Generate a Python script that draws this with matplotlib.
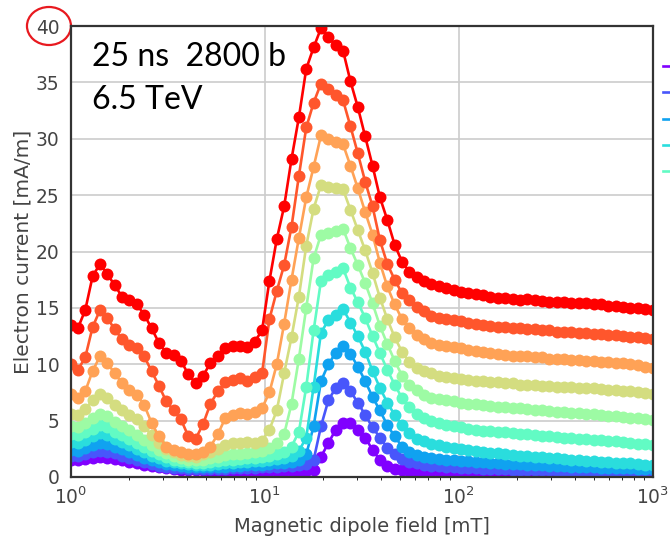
import numpy as np
import matplotlib
matplotlib.use("Agg")
import matplotlib.pyplot as plt
from matplotlib.patches import Ellipse

# dipole field scan (mT), log spaced
field_mT = np.logspace(0, 3, 80)

# electron current [mA/m], lowest to highest curve
s0 = [1.5, 1.5, 1.6, 1.7, 1.75, 1.7, 1.6, 1.5, 1.35, 1.2,
      1.05, 0.95, 0.85, 0.77, 0.7, 0.65, 0.62, 0.6, 0.58, 0.57,
      0.56, 0.56, 0.56, 0.56, 0.56, 0.56, 0.56, 0.56, 0.56, 0.56,
      0.56, 0.56, 0.55, 0.6, 1.8, 3.0, 4.2, 4.8, 4.75, 4.2,
      3.5, 2.4, 1.5, 1.0, 0.75, 0.62, 0.55, 0.53, 0.52, 0.5,
      0.5, 0.49, 0.48, 0.47, 0.46, 0.46, 0.45, 0.45, 0.44, 0.44,
      0.43, 0.43, 0.42, 0.42, 0.41, 0.41, 0.4, 0.4, 0.4, 0.39,
      0.39, 0.38, 0.38, 0.38, 0.37, 0.37, 0.37, 0.36, 0.36, 0.36]
s1 = [1.9, 1.85, 2.0, 2.2, 2.3, 2.25, 2.1, 1.9, 1.7, 1.5,
      1.3, 1.15, 1.0, 0.9, 0.82, 0.77, 0.73, 0.7, 0.7, 0.7,
      0.72, 0.74, 0.76, 0.78, 0.8, 0.82, 0.85, 0.88, 0.92, 0.96,
      1.0, 1.05, 1.12, 1.5, 4.5, 6.8, 7.9, 8.3, 7.6, 6.6,
      5.5, 4.4, 3.5, 2.6, 2.0, 1.6, 1.35, 1.2, 1.1, 1.0,
      0.95, 0.9, 0.86, 0.83, 0.8, 0.77, 0.74, 0.72, 0.7, 0.68,
      0.66, 0.64, 0.62, 0.61, 0.6, 0.58, 0.57, 0.56, 0.55, 0.54,
      0.53, 0.52, 0.51, 0.5, 0.49, 0.48, 0.47, 0.46, 0.45, 0.44]
s2 = [2.4, 2.35, 2.6, 2.85, 3.0, 2.9, 2.7, 2.45, 2.2, 1.95,
      1.7, 1.5, 1.3, 1.15, 1.05, 0.98, 0.93, 0.9, 0.88, 0.88,
      0.9, 0.93, 0.97, 1.0, 1.03, 1.06, 1.1, 1.15, 1.2, 1.27,
      1.35, 1.5, 2.0, 4.5, 8.5, 10.0, 11.0, 11.6, 10.9, 9.8,
      8.5, 7.1, 5.9, 4.6, 3.6, 2.7, 2.2, 1.95, 1.8, 1.7,
      1.6, 1.55, 1.5, 1.45, 1.4, 1.35, 1.3, 1.25, 1.2, 1.17,
      1.14, 1.11, 1.08, 1.05, 1.02, 1.0, 0.97, 0.95, 0.93, 0.9,
      0.88, 0.86, 0.84, 0.82, 0.8, 0.78, 0.76, 0.74, 0.72, 0.7]
s3 = [3.1, 3.0, 3.3, 3.6, 3.9, 3.7, 3.4, 3.1, 2.8, 2.5,
      2.2, 1.9, 1.65, 1.45, 1.3, 1.2, 1.12, 1.08, 1.05, 1.08,
      1.12, 1.2, 1.25, 1.3, 1.35, 1.38, 1.45, 1.5, 1.6, 1.7,
      1.85, 2.3, 3.5, 8.0, 12.8, 13.9, 14.4, 14.9, 13.7, 12.5,
      11.1, 9.4, 7.9, 6.6, 5.5, 4.6, 3.9, 3.4, 3.15, 2.95,
      2.8, 2.7, 2.6, 2.5, 2.4, 2.3, 2.2, 2.15, 2.1, 2.0,
      1.95, 1.9, 1.85, 1.8, 1.75, 1.7, 1.65, 1.6, 1.55, 1.5,
      1.45, 1.4, 1.35, 1.3, 1.27, 1.23, 1.2, 1.15, 1.1, 1.06]
s4 = [3.8, 3.7, 4.0, 4.3, 4.6, 4.4, 4.0, 3.7, 3.4, 3.0,
      2.7, 2.3, 2.0, 1.75, 1.55, 1.4, 1.3, 1.25, 1.25, 1.3,
      1.4, 1.5, 1.55, 1.6, 1.65, 1.7, 1.8, 1.9, 2.0, 2.2,
      2.7, 4.0, 8.0, 13.0, 17.4, 17.9, 18.2, 18.5, 16.8, 15.5,
      14.1, 12.5, 11.0, 9.5, 8.2, 7.0, 6.2, 5.6, 5.25, 5.0,
      4.8, 4.65, 4.5, 4.4, 4.3, 4.2, 4.1, 4.05, 4.0, 3.95,
      3.9, 3.85, 3.8, 3.7, 3.65, 3.6, 3.55, 3.5, 3.45, 3.4,
      3.35, 3.3, 3.25, 3.2, 3.15, 3.1, 3.0, 2.95, 2.9, 2.85]
s5 = [4.5, 4.4, 4.75, 5.2, 5.6, 5.4, 4.9, 4.5, 4.2, 3.7,
      3.3, 2.8, 2.4, 2.1, 1.9, 1.65, 1.55, 1.5, 1.55, 1.65,
      1.8, 1.95, 2.0, 2.05, 2.1, 2.2, 2.35, 2.6, 3.0, 3.8,
      6.5, 10.5, 15.0, 19.4, 21.5, 21.6, 21.8, 22.0, 20.3, 18.8,
      17.2, 15.4, 13.4, 11.8, 10.3, 9.0, 8.2, 7.7, 7.3, 7.05,
      6.9, 6.8, 6.7, 6.6, 6.5, 6.45, 6.4, 6.3, 6.25, 6.2,
      6.15, 6.1, 6.0, 5.95, 5.9, 5.85, 5.8, 5.75, 5.7, 5.65,
      5.6, 5.55, 5.5, 5.45, 5.4, 5.3, 5.25, 5.2, 5.1, 5.05]
s6 = [5.6, 5.5, 6.0, 6.8, 7.4, 7.0, 6.4, 5.9, 5.5, 5.1,
      4.5, 3.7, 3.0, 2.5, 2.2, 1.95, 1.9, 1.8, 2.0, 2.2,
      2.5, 2.8, 3.0, 3.0, 3.1, 3.0, 3.2, 4.2, 5.9, 9.2,
      12.4, 16.0, 20.5, 23.8, 25.9, 25.7, 25.6, 25.5, 23.7, 21.9,
      20.1, 18.1, 15.9, 14.0, 12.4, 11.1, 10.2, 9.7, 9.4, 9.2,
      9.0, 8.9, 8.8, 8.7, 8.6, 8.55, 8.5, 8.45, 8.4, 8.3,
      8.3, 8.2, 8.2, 8.15, 8.1, 8.1, 8.0, 8.0, 7.95, 7.9,
      7.9, 7.85, 7.8, 7.75, 7.7, 7.65, 7.6, 7.5, 7.45, 7.4]
s7 = [7.4, 7.0, 7.6, 9.4, 10.7, 10.1, 9.2, 8.3, 7.7, 7.3,
      6.4, 4.8, 3.6, 2.7, 2.4, 2.2, 2.0, 2.0, 2.2, 2.7,
      3.8, 5.2, 5.5, 5.7, 5.6, 5.8, 6.1, 7.5, 10.0, 13.6,
      17.5, 21.2, 24.8, 27.5, 30.3, 30.0, 29.7, 29.5, 27.6, 25.6,
      23.5, 21.5, 19.0, 16.9, 15.3, 14.0, 13.2, 12.6, 12.2, 11.9,
      11.7, 11.6, 11.5, 11.4, 11.3, 11.2, 11.1, 11.0, 10.9, 10.8,
      10.7, 10.7, 10.7, 10.6, 10.6, 10.5, 10.5, 10.5, 10.4, 10.4,
      10.3, 10.3, 10.2, 10.2, 10.1, 10.1, 10.0, 9.9, 9.8, 9.7]
s8 = [10.0, 9.5, 10.6, 13.3, 14.8, 14.1, 13.1, 12.2, 11.7, 11.4,
      10.7, 9.4, 8.1, 6.7, 5.9, 5.1, 3.6, 3.4, 4.7, 6.5,
      7.6, 8.4, 8.6, 8.8, 8.5, 8.9, 9.2, 14.0, 16.5, 18.8,
      22.2, 26.7, 31.0, 33.2, 34.9, 34.4, 33.9, 33.4, 31.1, 28.7,
      26.2, 24.0, 21.0, 18.9, 17.5, 16.3, 15.7, 15.1, 14.7, 14.3,
      14.1, 14.0, 13.9, 13.8, 13.7, 13.6, 13.5, 13.4, 13.3, 13.3,
      13.2, 13.2, 13.1, 13.1, 13.0, 13.0, 12.9, 12.9, 12.9, 12.8,
      12.8, 12.7, 12.7, 12.6, 12.6, 12.5, 12.4, 12.4, 12.3, 12.2]
s9 = [13.5, 13.2, 14.8, 17.8, 18.9, 18.0, 17.0, 16.0, 15.7, 15.3,
      14.4, 13.2, 11.9, 11.0, 10.8, 10.3, 9.1, 8.3, 9.0, 10.1,
      10.7, 11.4, 11.6, 11.6, 11.5, 12.0, 13.0, 17.4, 21.1, 24.0,
      28.2, 31.9, 36.2, 38.1, 39.8, 39.0, 38.3, 37.8, 35.1, 32.8,
      30.2, 27.6, 24.8, 22.8, 20.6, 19.1, 18.2, 17.7, 17.4, 17.1,
      16.9, 16.8, 16.6, 16.4, 16.3, 16.2, 16.1, 16.0, 15.9, 15.9,
      15.8, 15.7, 15.8, 15.7, 15.6, 15.5, 15.5, 15.5, 15.4, 15.4,
      15.4, 15.3, 15.3, 15.2, 15.2, 15.1, 15.0, 15.0, 14.9, 14.8]
curves = [s0, s1, s2, s3, s4, s5, s6, s7, s8, s9]

plt.rcParams['font.family'] = 'DejaVu Sans'
plt.rcParams['mathtext.fontset'] = 'dejavusans'

fig = plt.figure(figsize=(6.7, 5.39), dpi=100)
ax = fig.add_axes([70.5 / 670, 1 - 477 / 539, 582 / 670, 451 / 539])

colors = plt.cm.rainbow(np.linspace(0, 1, len(curves)))
lines = []
for y, c in zip(curves, colors):
    ln, = ax.plot(field_mT, y, '-o', color=c, lw=1.9, ms=8.6, mew=0)
    lines.append(ln)

ax.set_xscale('log')
ax.set_xlim(1, 1000)
ax.set_ylim(0, 40)
ax.set_yticks(np.arange(0, 41, 5))
ax.grid(True, color='#cccccc', lw=1.2)
ax.set_axisbelow(True)
for sp in ax.spines.values():
    sp.set_color('#333333')
    sp.set_linewidth(1.6)
ax.tick_params(length=0, labelsize=13.4, labelcolor='#444444')
ax.tick_params(axis='y', pad=8)
ax.tick_params(axis='x', pad=7)
ax.set_xlabel('Magnetic dipole field [mT]', fontsize=14, color='#444444', labelpad=6)
ax.set_ylabel('Electron current [mA/m]', fontsize=14.5, color='#444444', labelpad=2)

ax.text(0.037, 0.911, '25 ns  2800 b', transform=ax.transAxes, fontsize=23,
        family='Lato', va='baseline', ha='left', color='black')
ax.text(0.037, 0.816, '6.5 TeV', transform=ax.transAxes, fontsize=23,
        family='Lato', va='baseline', ha='left', color='black')

ax.add_patch(Ellipse((-0.037, 1.0), 0.0756, 0.0843, transform=ax.transAxes,
                     fill=False, ec='#e8191f', lw=1.6, clip_on=False))

# legend sits outside the canvas, only the handle stubs of the first column show
fig.legend(lines, [''] * len(lines), loc='upper left',
           bbox_to_anchor=(663 / 670, 0.893), ncol=2, frameon=False,
           fontsize=12, borderpad=0, borderaxespad=0, labelspacing=0.5,
           handlelength=2, markerscale=0.3)

fig.savefig('out.png', dpi=100)
